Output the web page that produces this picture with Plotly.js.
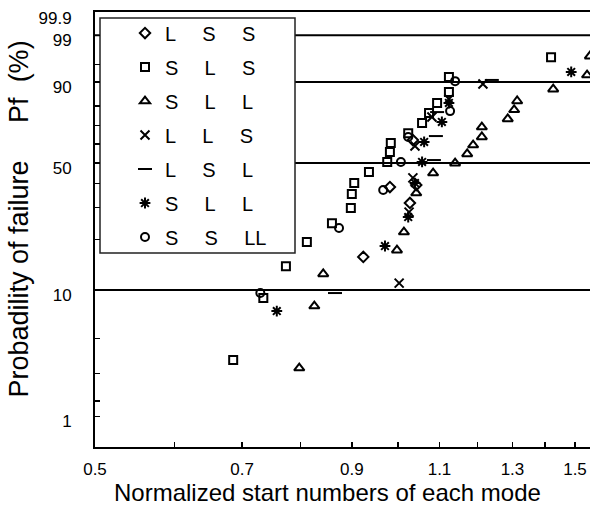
<!DOCTYPE html>
<html>
<head>
<meta charset="utf-8">
<script src="https://cdn.plot.ly/plotly-3.0.1.min.js"></script>
<style>html,body{margin:0;padding:0;background:#fff;}#chart{width:590px;height:508px;}</style>
</head>
<body>
<div id="chart"></div>
<script>
// ---- data (x: normalized start number, p: probability of failure in %) ----
const seriesNames = ['L S S', 'S L S', 'S L L', 'L L S', 'L S L', 'S L L', 'S S LL'];

const lssX = [0.924, 0.982, 1.028, 1.043, 1.035];
const lssP = [15.8, 38.4, 31.8, 39.3, 62.2];

const slsX = [0.686, 0.735, 0.774, 0.812, 0.860, 0.898, 0.900, 0.905, 0.936, 0.976, 0.982, 0.984, 1.024, 1.057, 1.074, 1.094, 1.124, 1.124, 1.420];
const slsP = [3.65, 8.92, 13.9, 19.3, 24.7, 29.9, 35.4, 40.2, 45.4, 50.5, 55.7, 60.6, 66.0, 71.4, 76.6, 81.5, 86.3, 91.6, 96.4];

const sllTriX = [0.798, 0.826, 0.843, 0.998, 1.014, 1.043, 1.084, 1.140, 1.172, 1.188, 1.212, 1.212, 1.286, 1.305, 1.314, 1.427, 1.542, 1.552];
const sllTriP = [3.25, 7.96, 12.5, 17.3, 22.0, 35.8, 44.9, 49.9, 54.7, 59.5, 63.9, 69.3, 73.6, 78.2, 82.4, 87.4, 92.2, 96.6];

const llsX = [1.003, 1.026, 1.035, 1.040, 1.081, 1.124, 1.215];
const llsP = [11.0, 28.4, 42.6, 59.0, 74.6, 83.3, 89.3];

const lslX = [0.866, 1.086, 1.091, 1.094, 1.240];
const lslP = [9.57, 51.5, 64.4, 77.1, 90.7];

const sllAstX = [0.758, 0.971, 1.024, 1.040, 1.057, 1.062, 1.106, 1.124, 1.487];
const sllAstP = [7.41, 18.3, 26.7, 40.2, 50.5, 61.2, 72.0, 81.5, 93.1];

const ssllX = [0.730, 0.874, 0.967, 1.007, 1.024, 1.127, 1.140];
const ssllP = [9.57, 23.2, 37.1, 50.5, 63.9, 77.6, 90.3];

const xTickVals = [0.5, 0.6, 0.7, 0.8, 0.9, 1.0, 1.1, 1.2, 1.3, 1.4, 1.5];
const xTickText = ['0.5', '', '0.7', '', '0.9', '', '1.1', '', '1.3', '', '1.5'];
// labels "1" and "99.9" sit slightly inside the frame in the original figure
const yTickVals = [1.6, 2, 3, 5, 10, 20, 30, 40, 50, 60, 70, 80, 90, 95, 99, 99.84];
const yTickText = ['1', '', '', '', '10', '', '', '', '50', '', '', '', '90', '', '99', '99.9'];
const gridLevels = [10, 50, 90, 99];
const vLineX = 1.03;

// Weibull probability scale
const wb = p => Math.log(-Math.log(1 - p / 100));

const symbols = ['diamond-open', 'square-open', 'triangle-up-open', 'x-thin-open', 'line-ew-open', 'asterisk-open', 'circle-open'];
const xs = [lssX, slsX, sllTriX, llsX, lslX, sllAstX, ssllX];
const ps = [lssP, slsP, sllTriP, llsP, lslP, sllAstP, ssllP];
const sizes = [8, 8, 9, 9, 10, 9, 8];
const NB = '\u00a0\u00a0\u00a0\u00a0\u2009';
const NB5 = '\u00a0\u00a0\u00a0\u00a0\u00a0';

const traces = seriesNames.map((n, i) => ({
  type: 'scatter', mode: 'markers',
  name: n.split(' ').join(NB),
  legendgroup: 'g' + i,
  x: xs[i], y: ps[i].map(wb),
  marker: {symbol: symbols[i], size: sizes[i], color: '#000', line: {color: '#000', width: 2}},
  cliponaxis: true
}));

const shapes = gridLevels.map(p => ({
  type: 'line', xref: 'paper', x0: 0, x1: 1, yref: 'y', y0: wb(p), y1: wb(p),
  line: {color: '#000', width: 2}, layer: 'between'
}));
shapes.push({type: 'line', xref: 'x', x0: Math.log10(vLineX), x1: Math.log10(vLineX), yref: 'paper', y0: 0, y1: 1,
  line: {color: '#000', width: 2}, layer: 'between'});
// legend frame
shapes.push({type: 'rect', xref: 'paper', yref: 'paper', x0: 5 / 495, x1: 200 / 495, y0: 194 / 435, y1: 429 / 435,
  fillcolor: '#fff', line: {color: '#222', width: 1.5}, layer: 'between'});

const font = 'Liberation Sans, Arial, sans-serif';
const layout = {
  width: 590, height: 508,
  margin: {l: 95, r: 0, t: 12, b: 61},
  paper_bgcolor: '#fff', plot_bgcolor: '#fff',
  font: {family: font, color: '#000'},
  showlegend: true,
  legend: {x: 30 / 495, xanchor: 'left', y: 0.9965, yanchor: 'top', bgcolor: 'rgba(0,0,0,0)', borderwidth: 0,
    font: {size: 20, family: font, color: '#000'}, tracegroupgap: 5, itemwidth: 30},
  xaxis: {type: 'log', range: [Math.log10(0.5), 0.191], tickvals: xTickVals, ticktext: xTickText,
    ticks: 'inside', ticklen: 5, tickwidth: 1.5, tickcolor: '#000',
    showline: true, linewidth: 2, linecolor: '#000', mirror: true, showgrid: false, zeroline: false,
    tickfont: {size: 17}, ticklabelstandoff: 6},
  yaxis: {range: [-4.581, 1.873], tickvals: yTickVals.map(wb), ticktext: yTickText,
    ticks: 'inside', ticklen: 5, tickwidth: 1.5, tickcolor: '#000',
    showline: true, linewidth: 2, linecolor: '#000', mirror: false, showgrid: false, zeroline: false,
    tickfont: {size: 17}, ticklabelstandoff: 18, ticklabelshift: 5},
  shapes: shapes,
  annotations: [
    {text: 'Normalized start numbers of each mode', xref: 'paper', yref: 'paper', x: 0.469, y: -0.105,
      xanchor: 'center', yanchor: 'middle', showarrow: false, font: {size: 24}},
    {text: 'Probadility of failure' + NB5 + 'Pf\u00a0\u00a0(%)', xref: 'paper', yref: 'paper', x: -0.1535, y: 0.523,
      xanchor: 'center', yanchor: 'middle', textangle: -90, showarrow: false, font: {size: 27}}
  ]
};

Plotly.newPlot('chart', traces, layout, {staticPlot: true, displayModeBar: false});
</script>
</body>
</html>
